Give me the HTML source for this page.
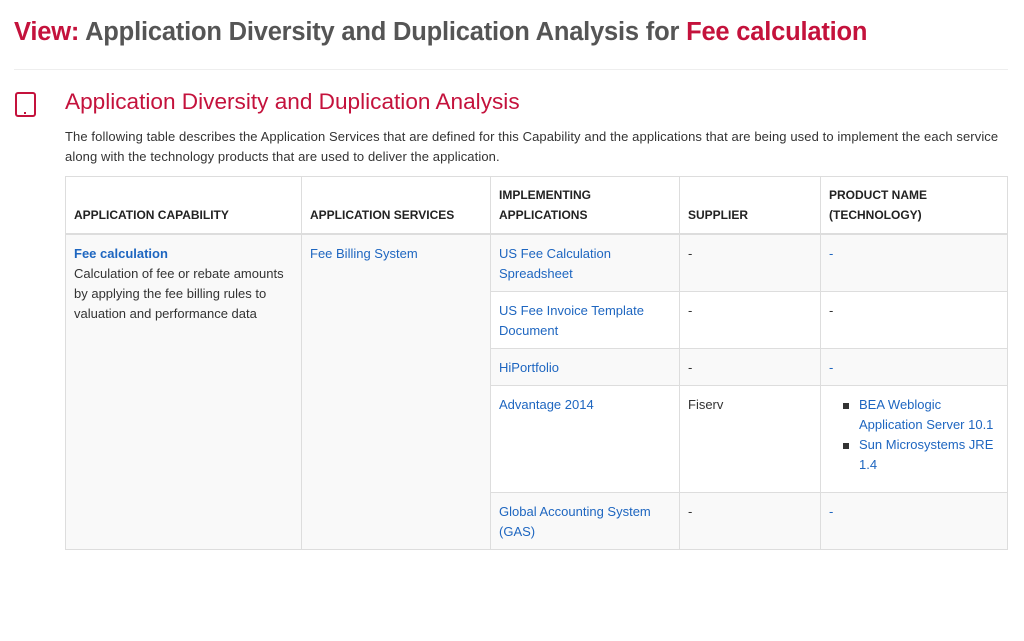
<!DOCTYPE html>
<html><head><meta charset="utf-8"><style>
body{margin:0;width:1024px;height:641px;background:#fff;font-family:"Liberation Sans",sans-serif;color:#333;position:relative;overflow:hidden}
.a{position:absolute;white-space:nowrap}
.red{color:#c4123c}
.lnk{color:#1e66c0}
.c{position:absolute;box-sizing:border-box;border:1px solid #ddd;font-size:13px;line-height:20px;padding:9px 8px 7px}
.g{background:#f9f9f9}
.h{font-weight:bold;font-size:12px;color:#222;display:flex;align-items:flex-end;padding-bottom:8px;border-bottom:2px solid #ddd}
</style></head><body>
<div class="a" style="left:14px;top:18px;font-size:25.5px;font-weight:bold;color:#555;letter-spacing:-0.2px"><span class="red">View:</span> Application Diversity and Duplication Analysis for <span class="red">Fee calculation</span></div>
<div class="a" style="left:14px;top:69px;width:994px;height:1px;background:#eee"></div>
<div class="a" style="left:15px;top:92px;width:21px;height:25px;border:2.5px solid #c4123c;border-radius:3px;box-sizing:border-box"><div style="position:absolute;left:7px;bottom:1px;width:2px;height:2px;background:#c4123c"></div></div>
<div class="a red" style="left:65px;top:89px;font-size:22.6px">Application Diversity and Duplication Analysis</div>
<div class="a" style="left:65px;top:127px;font-size:13px;line-height:20px;color:#333;letter-spacing:0.1px">The following table describes the Application Services that are defined for this Capability and the applications that are being used to implement the each service<br>along with the technology products that are used to deliver the application.</div>

<div>
<div class="c h" style="left:65px;top:176px;width:237px;height:59px">APPLICATION CAPABILITY</div>
<div class="c h" style="left:301px;top:176px;width:190px;height:59px">APPLICATION SERVICES</div>
<div class="c h" style="left:490px;top:176px;width:190px;height:59px">IMPLEMENTING<br>APPLICATIONS</div>
<div class="c h" style="left:679px;top:176px;width:142px;height:59px">SUPPLIER</div>
<div class="c h" style="left:820px;top:176px;width:188px;height:59px">PRODUCT NAME<br>(TECHNOLOGY)</div>

<div class="c g" style="left:65px;top:234px;width:237px;height:316px"><a class="lnk" style="font-weight:bold">Fee calculation</a><br>Calculation of fee or rebate amounts<br>by applying the fee billing rules to<br>valuation and performance data</div>
<div class="c g" style="left:301px;top:234px;width:190px;height:316px"><a class="lnk">Fee Billing System</a></div>

<div class="c g" style="left:490px;top:234px;width:190px;height:58px"><a class="lnk">US Fee Calculation<br>Spreadsheet</a></div>
<div class="c g" style="left:679px;top:234px;width:142px;height:58px">-</div>
<div class="c g" style="left:820px;top:234px;width:188px;height:58px"><span class="lnk">-</span></div>

<div class="c" style="left:490px;top:291px;width:190px;height:58px"><a class="lnk">US Fee Invoice Template<br>Document</a></div>
<div class="c" style="left:679px;top:291px;width:142px;height:58px">-</div>
<div class="c" style="left:820px;top:291px;width:188px;height:58px">-</div>

<div class="c g" style="left:490px;top:348px;width:190px;height:38px"><a class="lnk">HiPortfolio</a></div>
<div class="c g" style="left:679px;top:348px;width:142px;height:38px">-</div>
<div class="c g" style="left:820px;top:348px;width:188px;height:38px"><span class="lnk">-</span></div>

<div class="c" style="left:490px;top:385px;width:190px;height:108px"><a class="lnk">Advantage 2014</a></div>
<div class="c" style="left:679px;top:385px;width:142px;height:108px">Fiserv</div>
<div class="c" style="left:820px;top:385px;width:188px;height:108px">
<div style="position:relative;padding-left:30px"><span style="position:absolute;left:14px;top:8px;width:6px;height:6px;background:#333"></span><a class="lnk">BEA Weblogic<br>Application Server 10.1</a></div>
<div style="position:relative;padding-left:30px"><span style="position:absolute;left:14px;top:8px;width:6px;height:6px;background:#333"></span><a class="lnk">Sun Microsystems JRE<br>1.4</a></div>
</div>

<div class="c g" style="left:490px;top:492px;width:190px;height:58px"><a class="lnk">Global Accounting System<br>(GAS)</a></div>
<div class="c g" style="left:679px;top:492px;width:142px;height:58px">-</div>
<div class="c g" style="left:820px;top:492px;width:188px;height:58px"><span class="lnk">-</span></div>
</div>
</body></html>
